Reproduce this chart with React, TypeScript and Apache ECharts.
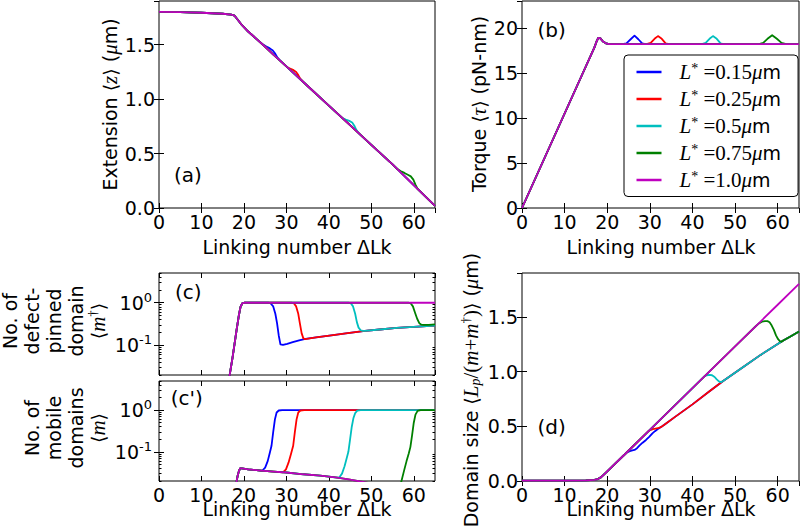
import React, { useEffect, useRef } from 'react';
import * as echarts from 'echarts';

type P = [number, number];

// ---------- legend / series names ----------
const seriesNames = ['L* =0.15μm', 'L* =0.25μm', 'L* =0.5μm', 'L* =0.75μm', 'L* =1.0μm'];
const legendValues = ['0.15', '0.25', '0.5', '0.75', '1.0'];
const seriesColors = ['#0000ff', '#ff0000', '#00bfbf', '#008000', '#bf00bf'];
const xTitle = 'Linking number ΔLk';

// ---------- (a) extension <z> (μm) ----------
const extMagenta: P[] = [[0, 1.8], [5, 1.797], [10, 1.792], [15, 1.783], [17, 1.775], [17.8, 1.765], [18.5, 1.73], [19.5, 1.68], [21, 1.62], [23, 1.55], [25, 1.48], [27, 1.405], [30, 1.3], [35, 1.12], [40, 0.94], [45, 0.76], [50, 0.58], [55, 0.4], [60, 0.21], [65, 0.02]];
const extBlueBump: P[] = [[24.5, 1.5], [25.3, 1.482], [26.1, 1.465], [26.8, 1.445], [27.4, 1.415], [27.9, 1.38], [28.5, 1.355]];
const extRedBump: P[] = [[30.3, 1.289], [31, 1.277], [31.7, 1.265], [32.3, 1.248], [32.8, 1.22], [33.3, 1.185], [33.9, 1.16]];
const extCyanBump: P[] = [[43.2, 0.825], [44, 0.812], [44.8, 0.8], [45.5, 0.785], [46, 0.755], [46.5, 0.715], [47, 0.688]];
const extGreenBump: P[] = [[56.2, 0.355], [57, 0.338], [57.8, 0.322], [58.6, 0.305], [59.3, 0.29], [59.9, 0.26], [60.4, 0.215], [60.9, 0.176]];

// ---------- (b) torque <τ> (pN-nm) ----------
const torqueMagenta: P[] = [[0, 0], [5, 5.25], [10, 10.5], [15, 15.75], [17, 17.85], [17.5, 18.5], [17.9, 18.9], [18.4, 18.85], [19, 18.5], [19.7, 18.3], [20.5, 18.2], [30, 18.2], [40, 18.2], [50, 18.2], [65, 18.2]];
const torqueBlueBump: P[] = [[23.5, 18.2], [24.5, 18.3], [25.5, 18.75], [26.4, 19.15], [27.3, 18.75], [28.2, 18.3], [29, 18.2]];
const torqueRedBump: P[] = [[29.2, 18.2], [30.2, 18.35], [31.1, 18.8], [31.9, 19.1], [32.8, 18.8], [33.7, 18.3], [34.5, 18.2]];
const torqueCyanBump: P[] = [[42.2, 18.2], [43.1, 18.35], [44, 18.8], [44.8, 19.1], [45.7, 18.8], [46.6, 18.3], [47.3, 18.2]];
const torqueGreenBump: P[] = [[55.6, 18.2], [56.6, 18.35], [57.6, 18.8], [58.7, 19.2], [59.8, 18.8], [60.9, 18.35], [62, 18.2]];

// ---------- (c) defect-pinned domains <m†> ----------
const pinnedMagenta: P[] = [[16.3, 0.012], [16.8, 0.025], [17.3, 0.05], [17.8, 0.11], [18.3, 0.24], [18.8, 0.5], [19.2, 0.8], [19.6, 0.96], [20.2, 1], [30, 1], [40, 1], [50, 1], [65, 1]];
const pinnedTail: P[] = [[34.5, 0.141], [37, 0.153], [41, 0.174], [44, 0.19], [48.5, 0.219], [52, 0.235], [56, 0.255], [60, 0.272], [65, 0.29]];
const pinnedBlueDrop: P[] = [[25.7, 1], [26.3, 0.96], [26.9, 0.82], [27.4, 0.55], [27.8, 0.33], [28.2, 0.17], [28.6, 0.105], [29.2, 0.102], [30.2, 0.108], [31.5, 0.118], [33, 0.13], [34, 0.138]];
const pinnedRedDrop: P[] = [[31.2, 1], [31.8, 0.96], [32.3, 0.82], [32.8, 0.55], [33.2, 0.32], [33.6, 0.19], [34, 0.145], [34.4, 0.14]];
const pinnedCyanDrop: P[] = [[44.6, 1], [45.2, 0.96], [45.7, 0.82], [46.2, 0.55], [46.6, 0.35], [47, 0.26], [47.5, 0.225], [48, 0.218]];
const pinnedGreenDrop: P[] = [[58.7, 1], [59.3, 0.96], [59.8, 0.82], [60.3, 0.58], [60.8, 0.42], [61.3, 0.33], [61.8, 0.305], [62.3, 0.3], [63.5, 0.303], [65, 0.31]];

// ---------- (c') mobile domains <m> ----------
const mobileMagenta: P[] = [[17.9, 0.012], [18.2, 0.018], [18.5, 0.026], [18.8, 0.034], [19.1, 0.04], [19.5, 0.04], [21, 0.038], [24, 0.0355], [27, 0.0335], [30, 0.032], [34, 0.029], [38, 0.027], [42, 0.024], [45, 0.0215], [48, 0.019], [52, 0.016], [58, 0.0125], [65, 0.009]];
const mobileBlueRise: P[] = [[24.3, 0.0352], [25, 0.042], [25.6, 0.06], [26.1, 0.095], [26.5, 0.14], [26.9, 0.3], [27.3, 0.6], [27.7, 0.88], [28.2, 0.98], [29, 1], [65, 1]];
const mobileRedRise: P[] = [[29.2, 0.0322], [29.9, 0.038], [30.5, 0.055], [31.1, 0.09], [31.6, 0.14], [32, 0.3], [32.4, 0.6], [32.8, 0.88], [33.3, 0.98], [34.2, 1], [65, 1]];
const mobileCyanRise: P[] = [[42.4, 0.024], [43.1, 0.03], [43.7, 0.045], [44.2, 0.07], [44.6, 0.1], [45, 0.2], [45.4, 0.4], [45.8, 0.65], [46.2, 0.85], [46.7, 0.97], [47.5, 1], [65, 1]];
const mobileGreenRise: P[] = [[56.5, 0.013], [57.1, 0.02], [57.7, 0.035], [58.3, 0.06], [58.8, 0.09], [59.2, 0.13], [59.6, 0.25], [60, 0.5], [60.4, 0.78], [60.9, 0.96], [61.6, 1], [65, 1]];

// ---------- (d) domain size <Lp/(m+m†)> (μm) ----------
const domainMagenta: P[] = [[0, 0.004], [10, 0.004], [15, 0.005], [17, 0.01], [17.8, 0.018], [18.5, 0.033], [19.2, 0.058], [20, 0.088], [24.5, 0.258], [30, 0.467], [40, 0.848], [50, 1.229], [60, 1.61], [65, 1.8]];
const domainTail: P[] = [[33.4, 0.513], [36, 0.588], [40, 0.7], [44, 0.82], [47.2, 0.913], [52, 1.043], [56, 1.152], [61.3, 1.283], [63, 1.32], [65, 1.365]];
const domainBlueBump: P[] = [[24.5, 0.258], [25.3, 0.272], [25.9, 0.28], [26.4, 0.284], [27, 0.3], [27.6, 0.325], [28.3, 0.35], [29.1, 0.375], [29.9, 0.405], [30.6, 0.435], [31.2, 0.455], [31.8, 0.473], [32.8, 0.497]];
const domainRedBump: P[] = [[29.5, 0.449], [30.1, 0.465], [30.7, 0.474], [31.3, 0.478], [31.9, 0.482], [32.4, 0.49], [32.8, 0.497]];
const domainCyanBump: P[] = [[42.8, 0.955], [43.4, 0.966], [44, 0.97], [44.6, 0.966], [45.2, 0.95], [45.7, 0.928], [46.2, 0.91], [46.7, 0.903]];
const domainGreenBump: P[] = [[54.9, 1.416], [55.6, 1.44], [56.3, 1.455], [57, 1.461], [57.6, 1.46], [58.1, 1.45], [58.6, 1.42], [59.1, 1.38], [59.6, 1.33], [60.1, 1.295], [60.5, 1.278], [60.9, 1.272]];

// tick positions for the log axes
const minorLogTicks = [0.02, 0.03, 0.04, 0.05, 0.06, 0.07, 0.08, 0.09, 0.2, 0.3, 0.4, 0.5, 0.6, 0.7, 0.8, 0.9, 2, 3, 4, 5];
const majorLogTicks = [0.1, 1];

// A curve = the shared curve before the segment, the segment, then a follow-on curve.
function splice(base: P[], seg: P[], tail: P[] = base): P[] {
  const x0 = seg[0][0];
  const x1 = seg[seg.length - 1][0];
  return [...base.filter((p) => p[0] < x0), ...seg, ...tail.filter((p) => p[0] > x1)];
}

const FONT = 'DejaVu Sans';
const MATH = 'Liberation Serif';

function buildOption(): any {
  const grids: any[] = [
    { left: 159, top: 1, width: 276, height: 207 },
    { left: 522, top: 1, width: 277, height: 207 },
    { left: 159, top: 273, width: 276, height: 102 },
    { left: 159, top: 381, width: 276, height: 100 },
    { left: 522, top: 273, width: 277, height: 208 },
  ].map((g) => ({ ...g, show: true, borderColor: '#000', borderWidth: 1, backgroundColor: 'transparent', containLabel: false, outerBoundsMode: 'none' }));

  const tick = { inside: true, length: 5, lineStyle: { color: '#000', width: 1 } };
  const lbl = { fontFamily: FONT, fontSize: 19, color: '#000' };

  const xAxis: any[] = [];
  const yAxis: any[] = [];
  const xMain: number[] = [];
  const yMain: number[] = [];

  grids.forEach((_, i) => {
    const showX = i !== 2;
    xMain.push(xAxis.length);
    const common = { gridIndex: i, type: 'value', min: 0, max: 65, interval: 10, axisLine: { show: false }, splitLine: { show: false }, axisTick: tick };
    xAxis.push({
      ...common, position: 'bottom',
      axisLabel: {
        show: showX, ...lbl, margin: 4, showMaxLabel: false, hideOverlap: false,
        opacity: 1, textBorderWidth: 0, textShadowBlur: 0,
        formatter: (v: number) => `{t|${v}}`,
        rich: { t: { fontFamily: FONT, fontSize: 19, color: '#000', opacity: 1, textBorderWidth: 0 } },
      },
    });
    xAxis.push({ ...common, position: 'top', axisLabel: { show: false } });
  });

  const linY = (i: number, max: number, interval: number, fmt?: (v: number) => string) => {
    const common = { gridIndex: i, type: 'value', min: 0, max, interval, axisLine: { show: false }, splitLine: { show: false }, axisTick: tick };
    yMain[i] = yAxis.length;
    yAxis.push({ ...common, position: 'left', axisLabel: { ...lbl, margin: 4, showMaxLabel: false, formatter: fmt } });
    yAxis.push({ ...common, position: 'right', axisLabel: { show: false } });
  };
  const logY = (i: number) => {
    const common = { gridIndex: i, type: 'log', logBase: 10, min: 0.02, max: 5, axisLine: { show: false }, splitLine: { show: false } };
    yMain[i] = yAxis.length;
    yAxis.push({
      ...common, position: 'left',
      axisTick: { ...tick, customValues: majorLogTicks },
      axisLabel: {
        customValues: majorLogTicks, margin: 7,
        formatter: (v: number) => (Math.abs(v - 1) < 1e-6 ? '{b|10}{s|0}' : Math.abs(v - 0.1) < 1e-6 ? '{b|10}{s|-1}' : ''),
        rich: {
          b: { fontFamily: FONT, fontSize: 19, color: '#000', lineHeight: 24 },
          s: { fontFamily: FONT, fontSize: 13, color: '#000', lineHeight: 13, verticalAlign: 'top' },
        },
      },
    });
    yAxis.push({ ...common, position: 'right', axisTick: { ...tick, customValues: majorLogTicks }, axisLabel: { show: false } });
    const minorTick = { inside: true, length: 2.5, lineStyle: { color: '#000', width: 1 }, customValues: minorLogTicks };
    yAxis.push({ ...common, position: 'left', axisTick: minorTick, axisLabel: { show: false } });
    yAxis.push({ ...common, position: 'right', axisTick: minorTick, axisLabel: { show: false } });
  };

  linY(0, 1.9, 0.5, (v) => v.toFixed(1));
  linY(1, 23, 5);
  logY(2);
  logY(3);
  linY(4, 1.9, 0.5, (v) => v.toFixed(1));

  const panels: P[][][] = [
    [splice(extMagenta, extBlueBump), splice(extMagenta, extRedBump), splice(extMagenta, extCyanBump), splice(extMagenta, extGreenBump), extMagenta],
    [splice(torqueMagenta, torqueBlueBump), splice(torqueMagenta, torqueRedBump), splice(torqueMagenta, torqueCyanBump), splice(torqueMagenta, torqueGreenBump), torqueMagenta],
    [splice(pinnedMagenta, pinnedBlueDrop, pinnedTail), splice(pinnedMagenta, pinnedRedDrop, pinnedTail), splice(pinnedMagenta, pinnedCyanDrop, pinnedTail), splice(pinnedMagenta, pinnedGreenDrop, []), pinnedMagenta],
    [splice(mobileMagenta, mobileBlueRise, []), splice(mobileMagenta, mobileRedRise, []), splice(mobileMagenta, mobileCyanRise, []), splice(mobileMagenta, mobileGreenRise, []), mobileMagenta],
    [splice(domainMagenta, domainBlueBump, domainTail), splice(domainMagenta, domainRedBump, domainTail), splice(domainMagenta, domainCyanBump, domainTail), splice(domainMagenta, domainGreenBump, domainTail), domainMagenta],
  ];

  const series: any[] = [];
  panels.forEach((curves, g) => {
    curves.forEach((data, k) => {
      series.push({
        type: 'line', name: seriesNames[k], xAxisIndex: xMain[g], yAxisIndex: yMain[g], data,
        showSymbol: false, symbol: 'none', smooth: false, clip: true, silent: true,
        lineStyle: { color: seriesColors[k], width: 1.8, join: 'round' }, itemStyle: { color: seriesColors[k] },
        emphasis: { disabled: true },
      });
    });
  });

  const mathRich = {
    n: { fontFamily: FONT, fontSize: 19, color: '#000', lineHeight: 24 },
    g: { fontFamily: FONT, fontSize: 19, color: '#000', lineHeight: 24 },
    i: { fontFamily: MATH, fontStyle: 'italic', fontSize: 21, color: '#000', lineHeight: 24 },
    r: { fontFamily: MATH, fontSize: 21, color: '#000', lineHeight: 24 },
    sup: { fontFamily: MATH, fontSize: 13, color: '#000', lineHeight: 12, verticalAlign: 'top' },
    sub: { fontFamily: MATH, fontStyle: 'italic', fontSize: 14, color: '#000', lineHeight: 14, verticalAlign: 'bottom' },
  };
  const txt = (x: number, y: number, text: string, rotate: boolean, size = 19) => ({
    type: 'text', x, y, z: 50, rotation: rotate ? Math.PI / 2 : 0, silent: true,
    style: {
      text, rich: mathRich, fontFamily: FONT, fontSize: size, fill: '#000',
      align: 'center', verticalAlign: 'middle', textAlign: 'center', textVerticalAlign: 'middle',
    },
  });

  const graphic = [
    txt(297, 246.5, xTitle, false),
    txt(661, 246.5, xTitle, false),
    txt(297, 508.5, xTitle, false),
    txt(661, 508.5, xTitle, false),
    txt(110, 104.5, '{n|Extension }{g|⟨}{i|z}{g|⟩}{n| (}{i|μ}{n|m)}', true),
    txt(479, 104, '{n|Torque }{g|⟨}{i|τ}{g|⟩}{n| (pN-nm)}', true),
    txt(470.5, 390, '{n|Domain size }{g|⟨}{i|L}{sub|p}{r|/(}{i|m}{r|+}{i|m}{sup|†}{r|)}{g|⟩}{n| (}{i|μ}{n|m)}', true),
    txt(10, 321, 'No. of', true),
    txt(32, 321, 'defect-', true),
    txt(54, 321, 'pinned', true),
    txt(76, 321, 'domain', true),
    txt(98, 321, '{g|⟨}{i|m}{sup|†}{g|⟩}', true),
    txt(32, 428, 'No. of', true),
    txt(54, 428, 'mobile', true),
    txt(76, 428, 'domains', true),
    txt(98, 428, '{g|⟨}{i|m}{g|⟩}', true),
    txt(188, 175, '(a)', false, 20),
    txt(551.7, 30, '(b)', false, 20),
    txt(188.3, 291.7, '(c)', false, 20),
    txt(186.7, 398.3, "(c')", false, 20),
    txt(551.7, 426.7, '(d)', false, 20),
  ];

  return {
    animation: false,
    backgroundColor: '#fff',
    textStyle: { fontFamily: FONT },
    grid: grids,
    xAxis,
    yAxis,
    series,
    legend: {
      data: seriesNames,
      orient: 'vertical', left: 624, top: 55,
      padding: [6, 17, 6, 12.5],
      itemWidth: 25, itemHeight: 2.5, itemGap: 5.5,
      icon: 'rect',
      backgroundColor: '#fff', borderColor: '#000', borderWidth: 1, borderRadius: 4,
      selectedMode: false,
      formatter: (name: string) => {
        const i = seriesNames.indexOf(name);
        return `{L|L}{st|*}{eq| =${legendValues[i]}}{mu|μ}{m|m}`;
      },
      textStyle: {
        color: '#000',
        rich: {
          L: { fontFamily: MATH, fontStyle: 'italic', fontSize: 21, lineHeight: 22, color: '#000', padding: [0, 0, 0, 13] },
          st: { fontFamily: MATH, fontSize: 14, lineHeight: 12, verticalAlign: 'top', color: '#000' },
          eq: { fontFamily: MATH, fontSize: 21, lineHeight: 22, color: '#000' },
          mu: { fontFamily: MATH, fontStyle: 'italic', fontSize: 21, lineHeight: 22, color: '#000' },
          m: { fontFamily: FONT, fontSize: 19, lineHeight: 22, color: '#000' },
        },
      },
    },
    graphic,
  };
}

export default function App() {
  const ref = useRef<HTMLDivElement>(null);
  useEffect(() => {
    if (!ref.current) return;
    const chart = echarts.init(ref.current, null, { renderer: 'svg' });
    chart.setOption(buildOption());
    return () => chart.dispose();
  }, []);
  return <div ref={ref} style={{ position: 'fixed', left: 0, top: 0, width: 800, height: 528, background: '#fff' }} />;
}
